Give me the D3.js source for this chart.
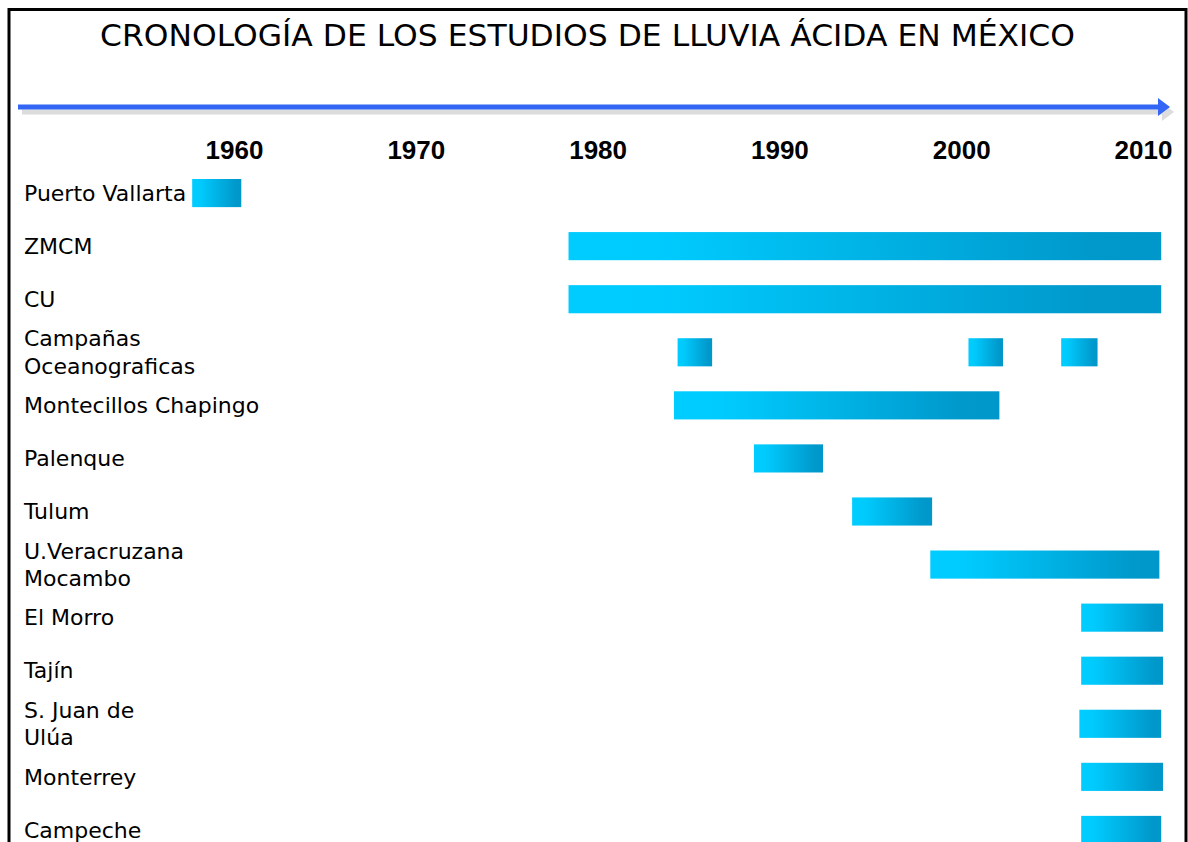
<!DOCTYPE html>
<html>
<head>
<meta charset="utf-8">
<script src="https://cdn.jsdelivr.net/npm/d3@7"></script>
<style>
  body { margin: 0; background: #fff; }
  text { font-family: "Comic Sans MS", "DejaVu Sans", sans-serif; fill: #000; }
</style>
</head>
<body>
<div class="viz"></div>
<script>
// rows of the timeline (line breaks where the label wraps)
var sites = ["Puerto Vallarta", "ZMCM", "CU", "Campañas\nOceanograficas", "Montecillos Chapingo",
  "Palenque", "Tulum", "U.Veracruzana\nMocambo", "El Morro", "Tajín", "S. Juan de\nUlúa",
  "Monterrey", "Campeche"]

// one entry per study period
var studySite  = [0, 1, 2, 3, 3, 3, 4, 5, 6, 7, 8, 9, 10, 11, 12]
var studyStart = [1957.7, 1978.4, 1978.4, 1984.4, 2000.4, 2005.5, 1984.2, 1988.6, 1994.0, 1998.3, 2006.6, 2006.6, 2006.5, 2006.6, 2006.6]
var studyEnd   = [1960.4, 2011.0, 2011.0, 1986.3, 2002.3, 2007.5, 2002.1, 1992.4, 1998.4, 2010.9, 2011.1, 2011.1, 2011.0, 2011.1, 2011.0]

var yearTicks = [1960, 1970, 1980, 1990, 2000, 2010]

var W = 1188, H = 842

var svg = d3.select(".viz")
  .append("svg")
    .attr("width", W)
    .attr("height", H)

// frame
svg.append("rect")
  .attr("x", 9).attr("y", 9.5)
  .attr("width", 1177).attr("height", 900)
  .attr("fill", "none")
  .attr("stroke", "#000")
  .attr("stroke-width", 3)

// title
svg.append("text")
  .attr("x", 100).attr("y", 46)
  .attr("textLength", 975)
  .attr("lengthAdjust", "spacingAndGlyphs")
  .style("font-size", "30px")
  .text("CRONOLOGÍA DE LOS ESTUDIOS DE LLUVIA  ÁCIDA EN MÉXICO")

// arrow with grey shadow
var defs = svg.append("defs")
var arrowSh = svg.append("g").attr("transform", "translate(4,5)")
arrowSh.append("line")
  .attr("x1", 18).attr("x2", 1162).attr("y1", 107).attr("y2", 107)
  .attr("stroke", "#dcdcdc").attr("stroke-width", 5)
arrowSh.append("path")
  .attr("d", "M1158,98 L1170,107 L1158,116 Z")
  .attr("fill", "#dcdcdc")

svg.append("line")
  .attr("x1", 18).attr("x2", 1162).attr("y1", 107).attr("y2", 107)
  .attr("stroke", "#3366f5").attr("stroke-width", 5)
svg.append("path")
  .attr("d", "M1158,98 L1170,107 L1158,116 Z")
  .attr("fill", "#3366f5")

// scales
var x = d3.scaleLinear()
  .domain([1960, 2010])
  .range([234, 1143])

var y = d3.scaleBand()
  .domain(d3.range(sites.length))
  .range([179, 844])
  .paddingInner(0.47)
  .paddingOuter(0)

// year labels
var xAxis = svg.append("g")
  .attr("transform", "translate(0,159)")
  .call(d3.axisTop(x).tickValues(yearTicks).tickFormat(d3.format("d")).tickSize(0).tickPadding(0))
xAxis.select(".domain").remove()
xAxis.selectAll("text")
  .attr("fill", "#000")
  .style("font-family", "'Liberation Sans', Arial, sans-serif")
  .style("font-weight", "bold")
  .style("font-size", "26px")

// bar gradient
var grad = defs.append("linearGradient")
  .attr("id", "barGrad")
  .attr("x1", "0").attr("x2", "1").attr("y1", "0").attr("y2", "0")
grad.append("stop").attr("offset", "0").attr("stop-color", "#00ccff")
grad.append("stop").attr("offset", "0.15").attr("stop-color", "#00cbfe")
grad.append("stop").attr("offset", "0.88").attr("stop-color", "#0099cc")
grad.append("stop").attr("offset", "1").attr("stop-color", "#0097ca")

// bars
svg.append("g")
  .selectAll("rect")
  .data(studySite)
  .join("rect")
    .attr("x", (d, i) => x(studyStart[i]))
    .attr("width", (d, i) => x(studyEnd[i]) - x(studyStart[i]))
    .attr("y", d => y(d))
    .attr("height", y.bandwidth())
    .attr("fill", "url(#barGrad)")

// site labels
var labels = svg.append("g")
  .selectAll("text")
  .data(sites)
  .join("text")
    .attr("x", 24)
    .attr("y", (d, i) => y(i) + y.bandwidth() / 2)
    .style("font-size", "22px")

labels.each(function(d) {
  var lines = d.split("\n")
  var t = d3.select(this)
  lines.forEach(function(l, k) {
    t.append("tspan")
      .attr("x", 24)
      .attr("dy", k == 0 ? (0.35 - (lines.length - 1) * 0.62) + "em" : "1.24em")
      .text(l)
  })
})
</script>
</body>
</html>
